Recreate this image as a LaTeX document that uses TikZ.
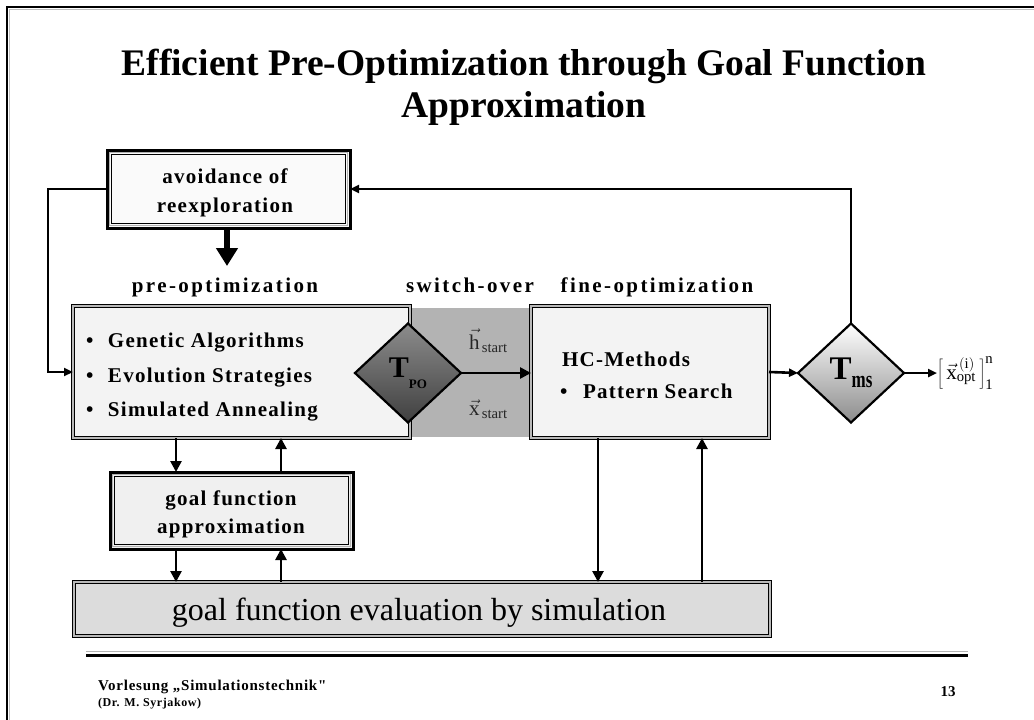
\documentclass[tikz,border=0pt]{standalone}
\usepackage{fontspec}
\setmainfont{Liberation Serif}
\newfontfamily\trk[LetterSpace=6]{Liberation Serif}
\newfontfamily\trkw[LetterSpace=11.5]{Liberation Serif}
\newfontfamily\trks[LetterSpace=5]{Liberation Serif}
\usetikzlibrary{shapes.geometric,arrows.meta,calc}

\definecolor{panel}{HTML}{F3F3F3}
\definecolor{notebg}{HTML}{FAFAFA}
\definecolor{gfabg}{HTML}{F0F0F0}
\definecolor{evalbg}{HTML}{DCDCDC}
\definecolor{swgray}{HTML}{B3B3B3}

\begin{document}
\begin{tikzpicture}[x=1pt,y=-1pt,
  every node/.style={inner sep=0pt,outer sep=0pt},
  titletxt/.style={font=\bfseries\fontsize{37.5}{45}\selectfont},
  boxtxt/.style={font=\trk\bfseries\fontsize{21}{29}\selectfont},
  labeltxt/.style={font=\trkw\bfseries\fontsize{21}{24}\selectfont},
  conn/.style={line width=2.6pt,-{Triangle[length=11pt,width=11pt]}},
  smallhead/.style={-{Triangle[length=9pt,width=8pt]}},
  bigarrow/.style={line width=6pt,-{Triangle[length=18pt,width=21pt]}},
  thinbox/.style={draw=black,line width=0.9pt,double=gray!55,double distance=1.8pt,fill=panel},
  heavybox/.style={draw=black,line width=3pt,
    path picture={\draw[gray!60,line width=1pt]
      ([xshift=2.4pt,yshift=-2.4pt]path picture bounding box.north west) rectangle
      ([xshift=-2.4pt,yshift=2.4pt]path picture bounding box.south east);
      \draw[line width=0.9pt]
      ([xshift=4.5pt,yshift=-4.5pt]path picture bounding box.north west) rectangle
      ([xshift=-4.5pt,yshift=4.5pt]path picture bounding box.south east);}},
  testbox/.style={shape=diamond,draw=black,line width=2.2pt,inner sep=0pt,
    minimum width=106pt,minimum height=99pt}]

\useasboundingbox (0,0) rectangle (1034,720);

% slide frame
\draw[gray!50,line width=1.2pt] (1034,9.8) -- (9.8,9.8) -- (9.8,720);
\draw[line width=2.6pt] (1034,7) -- (7,7) -- (7,720);

% title
\node[titletxt,anchor=base] (t1) at (524,75) {Efficient Pre-Optimization through Goal Function};
\node[titletxt,anchor=base] (t2) at (524,117) {Approximation};

% switch-over zone behind the first test
\node[fill=swgray,minimum width=126pt,minimum height=129pt] (sw) at (468,372.5) {};

% main boxes
\node[thinbox,minimum width=337pt,minimum height=132pt] (pre) at (241.5,372) {};
\node[thinbox,minimum width=238pt,minimum height=132pt] (fine) at (650,372) {};
\node[thinbox,fill=evalbg,minimum width=696pt,minimum height=54pt] (eval) at (422,609) {};
\node[font=\fontsize{32}{36}\selectfont,anchor=base] (evaltxt) at (419,620)
  {goal function evaluation by simulation};
\node[heavybox,fill=notebg,minimum width=243pt,minimum height=78pt] (avoid) at (228.5,189) {};
\node[boxtxt,anchor=base] (av1) at (225,183) {avoidance of};
\node[boxtxt,anchor=base] (av2) at (225,212) {reexploration};
\node[heavybox,fill=gfabg,minimum width=243pt,minimum height=77pt] (gfa) at (231.5,510.5) {};
\node[boxtxt,anchor=base] (gf1) at (231,505) {goal function};
\node[boxtxt,anchor=base] (gf2) at (231,533) {approximation};

% column headings
\node[labeltxt,anchor=base] (lpre) at (225,292) {pre-optimization};
\node[labeltxt,anchor=base] (lsw) at (470,292) {switch-over};
\node[labeltxt,anchor=base] (lfine) at (657,292) {fine-optimization};

% method lists
\node[boxtxt,anchor=base west] (m1) at (86,347) {\makebox[22pt][l]{•}Genetic Algorithms};
\node[boxtxt,anchor=base west] (m2) at (86,382) {\makebox[22pt][l]{•}Evolution Strategies};
\node[boxtxt,anchor=base west] (m3) at (86,416) {\makebox[22pt][l]{•}Simulated Annealing};
\node[boxtxt,anchor=base west] (hc) at (562,366) {HC-Methods};
\node[boxtxt,anchor=base west] (ps) at (560,398) {\makebox[23pt][l]{•}Pattern Search};

% start values
\node[anchor=base west,font=\fontsize{21}{24}\selectfont,text=black!85] (hs) at (469,349)
  {$\vec{\mathrm{h}}_{\,\mathrm{start}}$};
\node[anchor=base west,font=\fontsize{21}{24}\selectfont,text=black!85] (xs) at (469,415)
  {$\vec{\mathrm{x}}_{\,\mathrm{start}}$};

% decision tests
\node[testbox,top color=black!45,middle color=black!22,bottom color=black!75] (tpo) at (408,373)
  {\fontsize{30}{30}\selectfont\bfseries T\raisebox{-11pt}{\fontsize{13}{13}\selectfont\bfseries PO}};
\node[testbox,top color=white,bottom color=black!45] (tms) at (851,373)
  {\fontsize{33}{33}\selectfont\bfseries T\raisebox{-8pt}{\scalebox{1}[1.4]{\fontsize{17}{17}\selectfont\bfseries ms}}};

% result set
\node[anchor=west,font=\fontsize{21}{24}\selectfont] (res) at (937,373)
  {$\left[\,{\vec{\mathrm{x}}}^{\,(\mathrm{i})}_{\mathrm{opt}}\,\right]^{\mathrm{n}}_{\mathrm{1}}$};

% connectors
\coordinate (preTop) at (227,266);
\draw[bigarrow] (avoid.south -| preTop) -- (preTop);
\coordinate (loopL) at (48,189);
\draw[conn,smallhead] (avoid.west) -- (loopL) |- (pre.west);
\draw[conn,smallhead] (tms.north) |- (avoid.east);
\draw[conn] (tpo.east) -- (tpo.east -| fine.west);
\draw[conn,smallhead] (fine.east) -- (tms.west);
\draw[conn,smallhead] (tms.east) -- (res.west);

\draw[conn] (176,0 |- pre.south) -- (176,0 |- gfa.north);
\draw[conn] (281,0 |- gfa.north) -- (281,0 |- pre.south);
\draw[conn] (176,0 |- gfa.south) -- (176,0 |- eval.north);
\draw[conn] (281,0 |- eval.north) -- (281,0 |- gfa.south);
\draw[conn] (598,0 |- fine.south) -- (598,0 |- eval.north);
\draw[conn] (702,0 |- eval.north) -- (702,0 |- fine.south);

% footer
\draw[gray!60,line width=1.6pt] (86,651.5) -- (968,651.5);
\draw[line width=3pt] (86,655.5) -- (968,655.5);
\node[anchor=base west,font=\trks\bfseries\fontsize{15}{18}\selectfont] (f1) at (98,690)
  {Vorlesung „Simulationstechnik"};
\node[anchor=base west,font=\trks\bfseries\fontsize{12}{14}\selectfont] (f2) at (98,706)
  {(Dr. M. Syrjakow)};
\node[anchor=base,font=\bfseries\fontsize{15}{18}\selectfont] (pg) at (948,696) {13};
\end{tikzpicture}
\end{document}
